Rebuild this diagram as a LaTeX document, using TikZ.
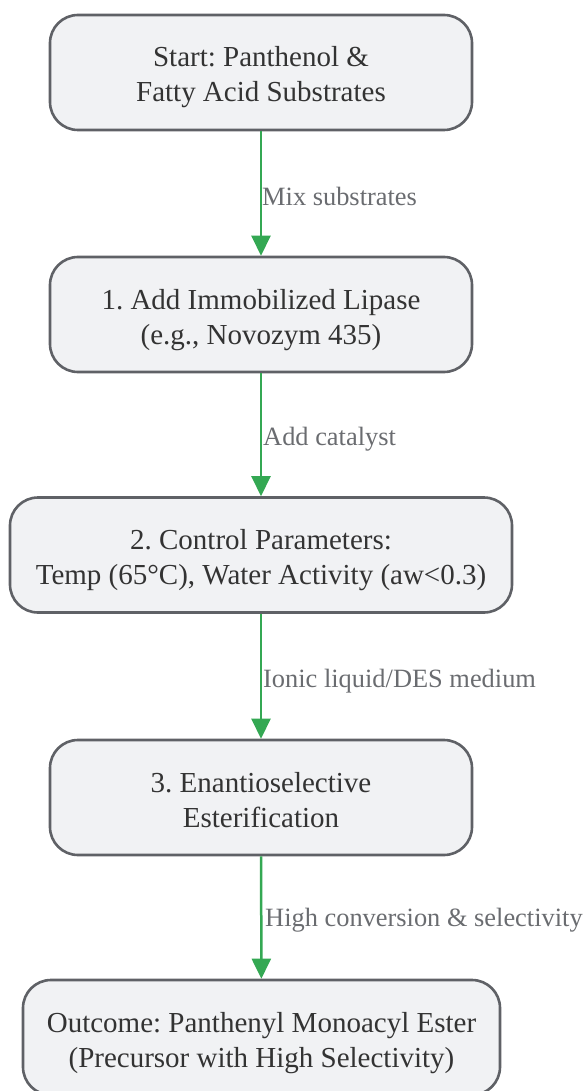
\documentclass[tikz,border=0pt]{standalone}
\usepackage{fontspec}
\setmainfont{Liberation Serif}
\usetikzlibrary{arrows.meta}
\definecolor{boxfill}{HTML}{F1F2F4}
\definecolor{boxdraw}{HTML}{5F6166}
\definecolor{boxtext}{HTML}{333333}
\definecolor{arrowgreen}{HTML}{34A853}
\definecolor{labeltext}{HTML}{6A6C70}
\newcommand{\topstrut}{\rule{0pt}{33pt}}
\newcommand{\botstrut}{\rule[-9pt]{0pt}{9pt}}
\tikzset{
  stepbox/.style={draw=boxdraw, fill=boxfill, line width=2.6pt, rounded corners=28pt,
    minimum height=115pt, align=center, text=boxtext, inner sep=0pt,
    font=\fontsize{29}{35}\selectfont\frenchspacing},
  flow/.style={draw=arrowgreen, line width=2.5pt, -{Triangle[width=19pt,length=20pt]}},
  elabel/.style={anchor=west, text=labeltext, inner sep=0pt, font=\fontsize{26.4}{32}\selectfont\frenchspacing}
}
\begin{document}
\begin{tikzpicture}[x=1pt,y=-1pt]
\useasboundingbox (0,0) rectangle (588,1091);
\node[stepbox, minimum width=422pt] (s) at (261,72.5) {\topstrut Start: Panthenol \&\\Fatty Acid Substrates\botstrut};
\node[stepbox, minimum width=422pt] (a) at (261,314.5) {\topstrut 1. Add Immobilized Lipase\\(e.g., Novozym 435)\botstrut};
\node[stepbox, minimum width=502pt] (b) at (261,555) {\topstrut 2. Control Parameters:\\Temp (65°C), Water Activity (aw<0.3)\botstrut};
\node[stepbox, minimum width=422pt] (c) at (261,797.5) {\topstrut 3. Enantioselective\\Esterification\botstrut};
\node[stepbox, minimum width=477pt] (o) at (261.5,1037.5) {\topstrut Outcome: Panthenyl Monoacyl Ester\\(Precursor with High Selectivity)\botstrut};
\draw[flow] (s) -- (a);
\draw[flow] (a) -- (b);
\draw[flow] (b) -- (c);
\draw[flow] (c) -- (o);
\node[elabel] (l1) at (262,196) {Mix substrates};
\node[elabel] (l2) at (263,439) {Add catalyst};
\node[elabel] (l3) at (263,681) {Ionic liquid/DES medium};
\node[elabel] (l4) at (265,920) {High conversion \& selectivity};
\end{tikzpicture}
\end{document}
